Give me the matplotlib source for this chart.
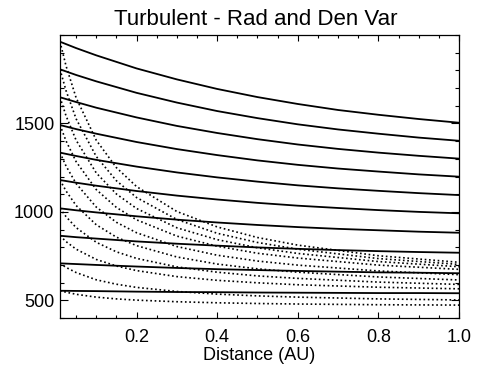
import numpy as np
import matplotlib
matplotlib.use("Agg")
import matplotlib.pyplot as plt
from matplotlib.ticker import MultipleLocator

plt.rcParams['font.family'] = ['Liberation Sans', 'DejaVu Sans']

# distance grid (AU) and temperature curves
solid_x = [0.01, 0.05, 0.1, 0.2, 0.3, 0.4, 0.5, 0.6, 0.7, 0.8, 0.9, 1.0]
solid_curves = [
    [1962, 1926, 1885, 1811, 1749, 1695, 1649, 1610, 1576, 1549, 1525, 1504],
    [1806, 1774, 1738, 1673, 1618, 1570, 1530, 1495, 1466, 1442, 1420, 1402],
    [1648, 1621, 1589, 1534, 1486, 1446, 1411, 1381, 1356, 1335, 1317, 1301],
    [1491, 1468, 1442, 1395, 1355, 1321, 1291, 1266, 1245, 1228, 1212, 1199],
    [1335, 1316, 1294, 1256, 1223, 1195, 1171, 1150, 1133, 1119, 1106, 1095],
    [1180, 1165, 1148, 1118, 1092, 1070, 1051, 1035, 1022, 1010, 1000, 992],
    [1020, 1009, 997, 975, 956, 940, 926, 914, 904, 896, 888, 882],
    [865, 857, 849, 833, 820, 809, 799, 791, 784, 778, 773, 769],
    [709, 705, 700, 691, 683, 676, 671, 666, 662, 658, 656, 653],
    [554, 553, 552, 549, 547, 546, 544, 543, 542, 541, 541, 540],
]

dotted_x = [0.01, 0.025, 0.05, 0.1, 0.15, 0.2, 0.3, 0.4, 0.5, 0.6, 0.8, 1.0]
dotted_curves = [
    [1962, 1825, 1645, 1405, 1250, 1143, 1002, 915, 855, 812, 752, 715],
    [1806, 1685, 1526, 1313, 1176, 1081, 957, 879, 827, 789, 736, 703],
    [1648, 1543, 1405, 1220, 1101, 1019, 910, 843, 797, 765, 719, 690],
    [1491, 1401, 1284, 1126, 1025, 955, 863, 806, 766, 739, 699, 675],
    [1335, 1259, 1160, 1027, 941, 882, 804, 755, 722, 699, 666, 645],
    [1180, 1118, 1036, 927, 857, 809, 745, 705, 678, 659, 632, 615],
    [1020, 973, 911, 828, 774, 737, 689, 659, 638, 624, 603, 590],
    [865, 832, 789, 731, 694, 668, 634, 613, 599, 588, 574, 565],
    [709, 686, 657, 616, 591, 573, 550, 535, 525, 518, 508, 502],
    [554, 546, 534, 518, 508, 501, 492, 486, 482, 479, 475, 473],
]

x_ticks = [0.2, 0.4, 0.6, 0.8, 1.0]
y_ticks = [500, 1000, 1500]

fig = plt.figure(figsize=(4.81, 3.69), dpi=100)
ax = fig.add_axes([60 / 481, 1 - 318 / 369, 399 / 481, 283 / 369])

for ys in solid_curves:
    ax.plot(solid_x, ys, color="black", lw=1.3, solid_capstyle="butt")
for ys in dotted_curves:
    ax.plot(dotted_x, ys, color="black", lw=1.2, linestyle=(0, (1, 1.6)))

ax.set_xlim(0.01, 1.0)
ax.set_ylim(400, 2000)
ax.set_xticks(x_ticks)
ax.set_xticklabels([f"{t:.1f}" for t in x_ticks])
ax.set_yticks(y_ticks)
ax.xaxis.set_minor_locator(MultipleLocator(0.05))
ax.yaxis.set_minor_locator(MultipleLocator(100))
ax.tick_params(axis="both", which="both", direction="in", top=True, right=True,
               labelsize=13, width=0.8, colors="black")
ax.tick_params(axis="x", which="major", length=4.1, pad=8)
ax.tick_params(axis="x", which="minor", length=2.0)
ax.tick_params(axis="y", which="major", length=5.8, pad=4)
ax.tick_params(axis="y", which="minor", length=2.9)
for sp in ax.spines.values():
    sp.set_linewidth(0.9)

ax.set_xlabel("Distance (AU)", fontsize=13, labelpad=1)
ax.set_title("Turbulent - Rad and Den Var", fontsize=16, pad=7, x=0.49)

fig.savefig("out.png", dpi=100)
